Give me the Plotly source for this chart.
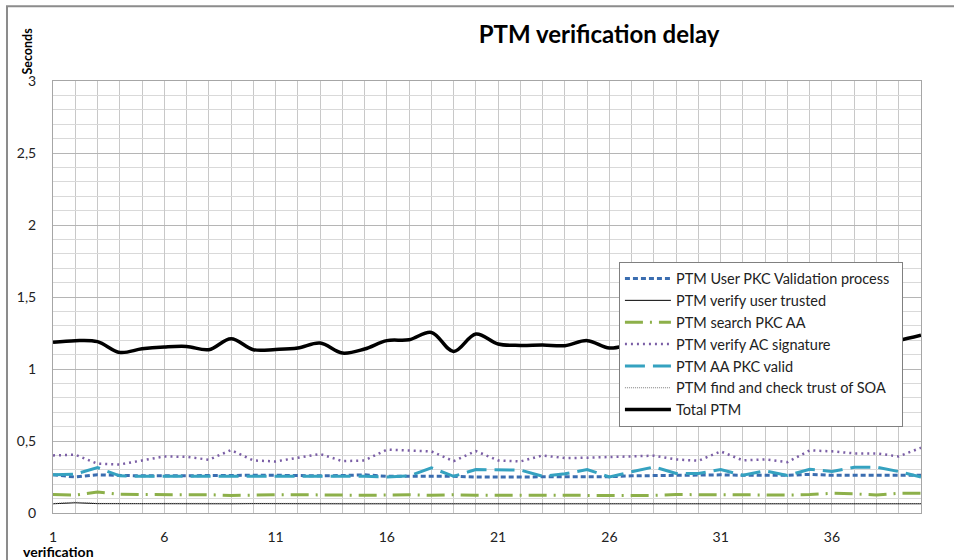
import plotly.graph_objects as go

x_vals = list(range(1, 41))

user_pkc_validation = [0.265, 0.25, 0.265, 0.26, 0.258, 0.258, 0.26, 0.26, 0.262, 0.262,
                       0.262, 0.258, 0.258, 0.26, 0.265, 0.255, 0.255, 0.258, 0.255, 0.25,
                       0.25, 0.252, 0.252, 0.252, 0.252, 0.252, 0.258, 0.26, 0.262, 0.262,
                       0.265, 0.262, 0.262, 0.262, 0.268, 0.262, 0.262, 0.262, 0.262, 0.262]

verify_user_trusted = [0.064, 0.071, 0.065, 0.064, 0.064, 0.064, 0.064, 0.064, 0.064, 0.065,
                       0.066, 0.065, 0.064, 0.064, 0.064, 0.064, 0.064, 0.064, 0.064, 0.064,
                       0.064, 0.064, 0.064, 0.064, 0.064, 0.064, 0.064, 0.064, 0.064, 0.064,
                       0.064, 0.064, 0.064, 0.064, 0.064, 0.064, 0.064, 0.064, 0.064, 0.064]

search_pkc_aa = [0.128, 0.125, 0.145, 0.13, 0.128, 0.128, 0.125, 0.127, 0.122, 0.127,
                 0.127, 0.127, 0.125, 0.123, 0.123, 0.125, 0.127, 0.123, 0.127, 0.123,
                 0.123, 0.123, 0.127, 0.123, 0.127, 0.123, 0.122, 0.122, 0.128, 0.127,
                 0.125, 0.125, 0.125, 0.125, 0.128, 0.137, 0.133, 0.125, 0.137, 0.137]

verify_ac_signature = [0.40, 0.405, 0.342, 0.337, 0.365, 0.393, 0.39, 0.37, 0.437, 0.365,
                       0.358, 0.384, 0.41, 0.36, 0.365, 0.44, 0.435, 0.428, 0.36, 0.43,
                       0.365, 0.358, 0.40, 0.381, 0.384, 0.388, 0.396, 0.398, 0.372, 0.363,
                       0.428, 0.365, 0.372, 0.353, 0.435, 0.428, 0.414, 0.414, 0.393, 0.453]

aa_pkc_valid = [0.265, 0.27, 0.315, 0.258, 0.255, 0.255, 0.255, 0.255, 0.256, 0.255,
                0.255, 0.252, 0.255, 0.253, 0.255, 0.25, 0.257, 0.314, 0.255, 0.302,
                0.298, 0.298, 0.255, 0.272, 0.302, 0.25, 0.286, 0.32, 0.274, 0.274,
                0.302, 0.262, 0.293, 0.26, 0.304, 0.288, 0.318, 0.318, 0.288, 0.25]

find_trust_soa = [0.066, 0.075, 0.067, 0.065, 0.066, 0.067, 0.067, 0.066, 0.067, 0.068,
                  0.068, 0.067, 0.066, 0.065, 0.067, 0.068, 0.068, 0.069, 0.066, 0.066,
                  0.067, 0.067, 0.067, 0.066, 0.067, 0.067, 0.067, 0.066, 0.066, 0.066,
                  0.066, 0.066, 0.066, 0.066, 0.066, 0.066, 0.066, 0.066, 0.066, 0.066]

total_ptm = [1.185, 1.197, 1.19, 1.115, 1.14, 1.153, 1.157, 1.134, 1.21, 1.134,
             1.136, 1.146, 1.18, 1.111, 1.139, 1.197, 1.203, 1.254, 1.122, 1.243,
             1.174, 1.164, 1.167, 1.162, 1.197, 1.146, 1.17, 1.18, 1.16, 1.17,
             1.19, 1.16, 1.17, 1.15, 1.19, 1.18, 1.17, 1.18, 1.2, 1.235]

series_names = ["PTM User PKC Validation process\u00a0\u00a0", "PTM verify user trusted",
                "PTM search PKC AA", "PTM verify AC signature", "PTM AA PKC valid",
                "PTM find and check trust of SOA", "Total PTM"]

FONT = "Lato"

fig = go.Figure()

styles = [
    (user_pkc_validation, dict(color="#3A6DB0", width=3, dash="5px,3px"), "linear"),
    (verify_user_trusted, dict(color="#000000", width=1), "linear"),
    (search_pkc_aa, dict(color="#8DB04A", width=3, dash="18px,7px,2px,7px"), "linear"),
    (verify_ac_signature, dict(color="#7B5FA6", width=2.5, dash="2px,4px"), "linear"),
    (aa_pkc_valid, dict(color="#35A2C0", width=3, dash="20px,8px"), "linear"),
    (find_trust_soa, dict(color="#7f7f7f", width=1, dash="1px,1px"), "linear"),
    (total_ptm, dict(color="#000000", width=3.5), "spline"),
]

for i, (vals, line, shape) in enumerate(styles):
    if shape == "spline":
        line = dict(line, shape="spline", smoothing=1.0)
    fig.add_trace(go.Scatter(x=x_vals, y=vals, mode="lines", name=series_names[i],
                             line=line, legendgroup=f"g{i}"))

fig.update_layout(
    width=954, height=560,
    margin=dict(l=53, r=33, t=81, b=47),
    paper_bgcolor="white", plot_bgcolor="white",
    separators=", ",
    font=dict(family=FONT, size=13, color="#222222"),
    title=dict(text="<b>PTM verification delay</b>", xref="container", yref="container",
               x=0.628, y=0.938, xanchor="center", yanchor="middle",
               font=dict(family=FONT, size=24, color="#000000")),
    legend=dict(x=0.652, y=0.582, xanchor="left", yanchor="top",
                bgcolor="white", bordercolor="#808080", borderwidth=1,
                font=dict(family=FONT, size=14.5, color="#222222"),
                itemwidth=46, tracegroupgap=6, traceorder="normal"),
    showlegend=True,
)

fig.update_xaxes(range=[1, 40], tick0=1, dtick=5, showgrid=True, gridcolor="#C8C8C8",
                 minor=dict(tick0=1, dtick=1, showgrid=True, gridcolor="#C8C8C8"),
                 showline=True, linecolor="#A6A6A6", mirror=True, zeroline=False,
                 ticks="", ticklabelstandoff=11, automargin=False,
                 tickfont=dict(family=FONT, size=14, color="#222222"))
fig.update_yaxes(range=[0, 3], tick0=0, dtick=0.5, showgrid=True, gridcolor="#B5B5B5",
                 minor=dict(tick0=0, dtick=0.1, showgrid=True, gridcolor="#D9D9D9"),
                 showline=True, linecolor="#A6A6A6", mirror=True, zeroline=False,
                 ticks="", ticklabelstandoff=13, automargin=False,
                 tickfont=dict(family=FONT, size=14, color="#222222"))

fig.add_annotation(text="<b>Seconds</b>", xref="paper", yref="paper",
                   x=-0.029, y=1.07, textangle=-90, showarrow=False,
                   xanchor="center", yanchor="middle",
                   font=dict(family=FONT, size=12.5, color="#000000"))
fig.add_annotation(text="<b>verification</b>", xref="paper", yref="paper",
                   x=0.006, y=-0.09, showarrow=False,
                   xanchor="center", yanchor="middle",
                   font=dict(family=FONT, size=14, color="#000000"))

fig.add_shape(type="rect", xref="paper", yref="paper",
              x0=-0.053, x1=1.3, y0=-0.5, y1=1.173,
              line=dict(color="#8C8C8C", width=2), fillcolor="rgba(0,0,0,0)", layer="above")

fig.write_html("out.html", config={"displayModeBar": False},
               post_script="document.body.style.margin='0';document.body.style.overflow='hidden';")
